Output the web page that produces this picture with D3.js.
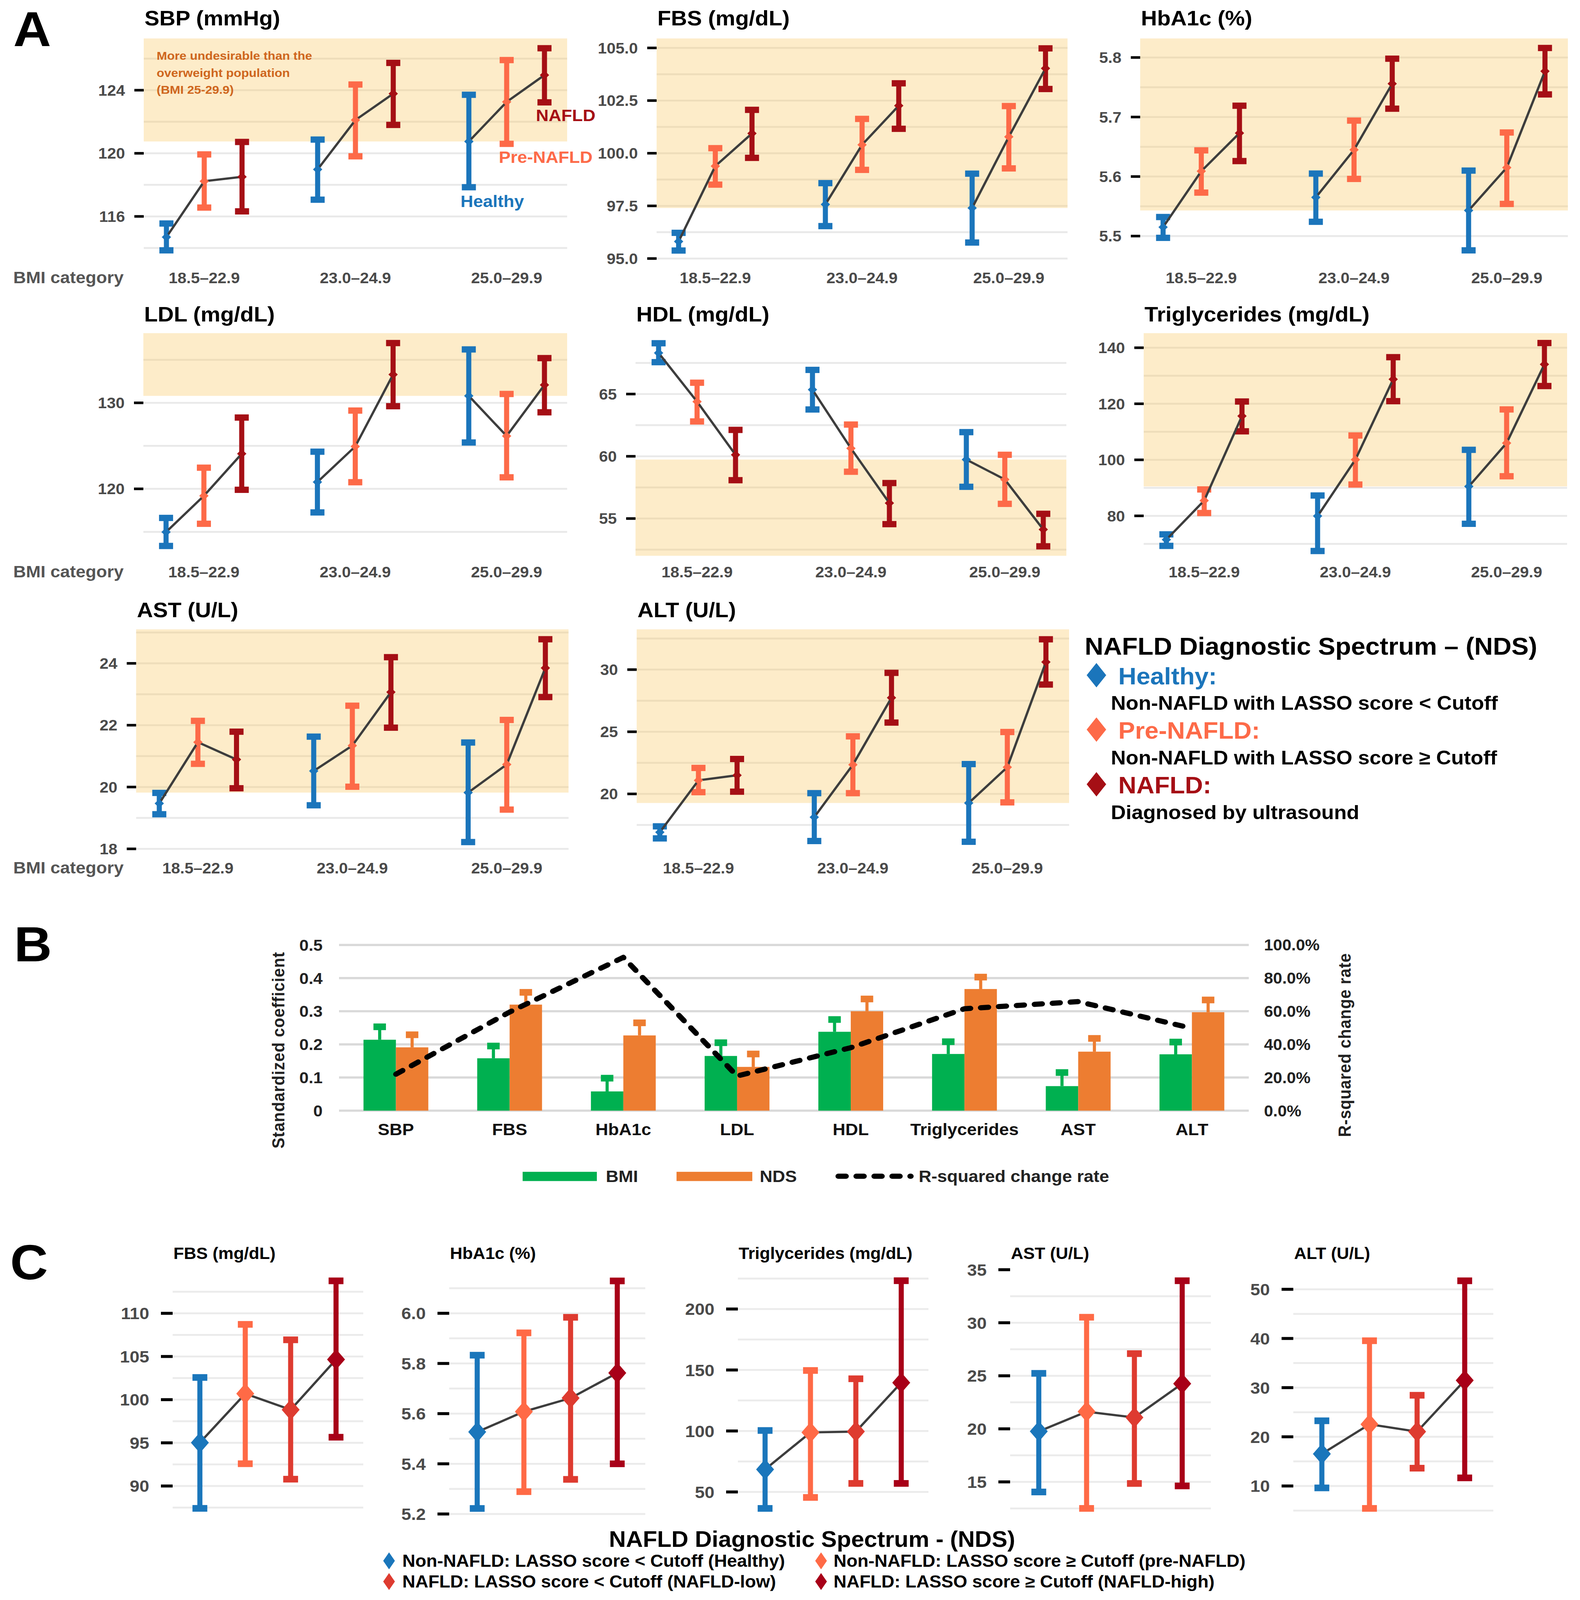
<!DOCTYPE html>
<html><head><meta charset="utf-8">
<script src="https://cdn.jsdelivr.net/npm/d3@7"></script>
<style>
html,body{margin:0;padding:0;background:#fff;overflow:hidden}
svg{display:block;width:100vw;height:100vh}
text{font-family:"Liberation Sans",Arial,Helvetica,sans-serif;font-weight:bold}
</style>
</head><body>
<svg id="c" viewBox="0 0 4045 4327" preserveAspectRatio="none"></svg>
<script>
// ---------------- DATA: Panel A (order: group-major, series Healthy, Pre-NAFLD, NAFLD) -------------
const bmiGroups = ["18.5–22.9", "23.0–24.9", "25.0–29.9"];
const ndsGroups = ["Healthy", "Pre-NAFLD", "NAFLD"];

const sbpMean = [114.69,118.23,118.51, 118.98,122.11,123.78, 120.75,123.26,124.96];
const sbpLo   = [113.85,116.56,116.32, 117.06,119.81,121.80, 117.85,120.60,123.23];
const sbpHi   = [115.55,119.93,120.72, 120.87,124.36,125.73, 123.71,125.91,126.66];

const fbsMean = [95.81,99.39,100.94, 97.57,100.40,102.26, 97.40,100.78,104.03];
const fbsLo   = [95.38,98.51,99.78, 96.54,99.21,101.16, 95.76,99.28,103.05];
const fbsHi   = [96.22,100.24,102.06, 98.58,101.63,103.32, 99.03,102.24,104.98];

const hbaMean = [5.515,5.609,5.673, 5.565,5.645,5.756, 5.543,5.615,5.777];
const hbaLo   = [5.497,5.573,5.626, 5.524,5.596,5.714, 5.476,5.554,5.738];
const hbaHi   = [5.532,5.644,5.719, 5.605,5.694,5.798, 5.610,5.674,5.816];

const ldlMean = [114.98,119.19,124.08, 120.79,124.93,133.29, 130.81,126.14,132.08];
const ldlLo   = [113.36,115.94,119.89, 117.26,120.77,129.61, 125.39,121.34,128.90];
const ldlHi   = [116.62,122.46,128.29, 124.32,129.10,136.95, 136.21,131.03,135.20];

const hdlMean = [68.30,64.39,60.12, 65.35,60.64,56.24, 59.74,58.14,54.12];
const hdlLo   = [67.56,62.80,58.08, 63.76,58.76,54.55, 57.55,56.18,52.77];
const hdlHi   = [69.08,65.91,62.12, 66.94,62.55,57.85, 61.94,60.12,55.38];

const tgMean  = [71.52,85.45,115.62, 79.93,100.07,128.75, 90.51,105.99,134.07];
const tgLo    = [69.29,81.01,110.17, 67.46,91.18,120.94, 77.17,94.14,126.33];
const tgHi    = [73.40,89.43,120.81, 87.27,108.69,136.63, 103.57,117.98,141.68];

const astMean = [19.47,21.45,20.89, 20.52,21.34,23.07, 19.82,20.73,23.85];
const astLo   = [19.12,20.75,19.96, 19.41,20.01,21.92, 18.22,19.27,22.91];
const astHi   = [19.81,22.14,21.79, 21.63,22.63,24.20, 21.44,22.17,24.78];

const altMean = [16.92,21.09,21.50, 18.13,22.35,27.74, 19.27,22.15,30.61];
const altLo   = [16.42,20.14,20.18, 16.21,20.06,25.74, 16.15,19.32,28.80];
const altHi   = [17.39,22.09,22.81, 20.06,24.63,29.74, 22.40,24.98,32.44];

// ---------------- DATA: Panel B ----------------
const coefCats  = ["SBP","FBS","HbA1c","LDL","HDL","Triglycerides","AST","ALT"];
const bmiCoef   = [0.214,0.158,0.058,0.165,0.238,0.171,0.074,0.170];
const bmiUpper  = [0.253,0.195,0.098,0.205,0.275,0.208,0.115,0.207];
const ndsCoef   = [0.191,0.320,0.227,0.132,0.300,0.367,0.178,0.297];
const ndsUpper  = [0.229,0.357,0.265,0.171,0.337,0.403,0.218,0.334];
const r2Change  = [22.0,59.5,92.5,20.9,38.0,61.5,65.8,49.7]; // percent
const coefTicks = [0,0.1,0.2,0.3,0.4,0.5];
const r2Ticks   = [0,0.2,0.4,0.6,0.8,1.0];

// ---------------- DATA: Panel C ----------------
const cGroups = ["Non-NAFLD: LASSO score < Cutoff (Healthy)","Non-NAFLD: LASSO score ≥ Cutoff (pre-NAFLD)",
                 "NAFLD: LASSO score < Cutoff (NAFLD-low)","NAFLD: LASSO score ≥ Cutoff (NAFLD-high)"];
const cFbsMean = [95.02,100.69,98.83,104.65];
const cFbsLo   = [87.41,92.58,90.79,95.65];
const cFbsHi   = [102.57,108.72,106.93,113.76];
const cHbaMean = [5.527,5.608,5.662,5.762];
const cHbaLo   = [5.222,5.289,5.338,5.400];
const cHbaHi   = [5.833,5.922,5.984,6.129];
const cTgMean  = [68.5,98.8,99.5,139.6];
const cTgLo    = [36.5,45.5,57.0,57.0];
const cTgHi    = [100.4,149.6,142.8,223.2];
const cAstMean = [19.76,21.62,21.07,24.26];
const cAstLo   = [14.05,12.50,14.85,14.62];
const cAstHi   = [25.23,30.52,27.09,33.96];
const cAltMean = [16.53,22.55,21.05,31.47];
const cAltLo   = [9.61,5.44,13.62,11.65];
const cAltHi   = [23.26,39.54,28.45,51.73];

// ---------------- STYLE ----------------
const ndsColors = ["#1b75bb","#fd6a48","#a50f15"];
const cColors   = ["#1a76bb","#ff6a46","#de3b30","#a80018"];
const tickGray = "#4a4a4a";
const svg = d3.select("#c");
svg.append("rect").attr("width",4045).attr("height",4327).attr("fill","#fff");

function diamond(w,h){ return `M0,${-h/2}L${w/2},0L0,${h/2}L${-w/2},0Z`; }
function steps(lo,hi,step){
  const a = Math.ceil(lo/step - 1e-9), b = Math.floor(hi/step + 1e-9);
  return d3.range(a,b+1).map(k => +(k*step).toFixed(6));
}

// ================= PANEL A =================
const rowsA = [
  {titleY:69,  labelY:766,  top:104,  bottom:706},
  {titleY:869, labelY:1561, top:901,  bottom:1503},
  {titleY:1669,labelY:2362, top:1702, bottom:2304}
];
const panelsA = [
  {title:"SBP (mmHg)", mean:sbpMean, lo:sbpLo, hi:sbpHi, domain:[113.17,127.28], major:4, minor:2, fmt:d3.format("d"), x:[368,1452], row:0},
  {title:"FBS (mg/dL)", mean:fbsMean, lo:fbsLo, hi:fbsHi, domain:[94.88,105.45], major:2.5, minor:1.25, fmt:d3.format(".1f"), x:[1681,2733], row:0},
  {title:"HbA1c (%)", mean:hbaMean, lo:hbaLo, hi:hbaHi, domain:[5.458,5.832], major:0.1, minor:0.05, fmt:d3.format(".1f"), x:[2919,4014], row:0},
  {title:"LDL (mg/dL)", mean:ldlMean, lo:ldlLo, hi:ldlHi, domain:[112.22,138.10], major:10, minor:5, fmt:d3.format("d"), x:[367,1452], row:1},
  {title:"HDL (mg/dL)", mean:hdlMean, lo:hdlLo, hi:hdlHi, domain:[52.01,69.89], major:5, minor:2.5, fmt:d3.format("d"), x:[1627,2730], row:1, lowBad:true},
  {title:"Triglycerides (mg/dL)", mean:tgMean, lo:tgLo, hi:tgHi, domain:[65.76,145.2], major:20, minor:10, fmt:d3.format("d"), x:[2928,4012], row:1},
  {title:"AST (U/L)", mean:astMean, lo:astLo, hi:astHi, domain:[17.90,25.10], major:2, minor:1, fmt:d3.format("d"), x:[348.5,1455.5], row:2},
  {title:"ALT (U/L)", mean:altMean, lo:altLo, hi:altHi, domain:[15.33,33.24], major:5, minor:2.5, fmt:d3.format("d"), x:[1630,2737], row:2}
];

panelsA.forEach((p,pi) => {
  const r = rowsA[p.row];
  const [x0,x1] = p.x;
  const x = d3.scaleLinear().domain([-0.4,2.4]).range([x0,x1]);
  const y = d3.scaleLinear().domain(p.domain).range([r.bottom,r.top]);
  const g = svg.append("g");
  const grid = steps(p.domain[0],p.domain[1],p.minor);
  g.selectAll("line.grid").data(grid).join("line").attr("class","grid")
    .attr("x1",x0).attr("x2",x1).attr("y1",d=>y(d)).attr("y2",d=>y(d))
    .attr("stroke","#e9e9e9").attr("stroke-width",5);
  // shading relative to Healthy BMI 25.0–29.9 mean
  const yr = y(p.mean[6]);
  const shade = g.append("rect").attr("x",x0).attr("width",x1-x0)
    .attr("fill","rgb(249,201,101)").attr("fill-opacity",0.35);
  if (p.lowBad) shade.attr("y",yr).attr("height",r.bottom-yr);
  else shade.attr("y",r.top).attr("height",yr-r.top);
  // y ticks
  const majors = steps(p.domain[0],p.domain[1],p.major);
  g.selectAll("line.tk").data(majors).join("line").attr("class","tk")
    .attr("x1",x0-24).attr("x2",x0).attr("y1",d=>y(d)).attr("y2",d=>y(d))
    .attr("stroke","#000").attr("stroke-width",7);
  g.selectAll("text.tl").data(majors).join("text").attr("class","tl")
    .attr("x",x0-48).attr("y",d=>y(d)).attr("dy","0.36em").attr("text-anchor","end")
    .attr("font-size",41).attr("fill",tickGray).text(d=>p.fmt(d));
  // title
  g.append("text").attr("x",x0+2).attr("y",r.titleY).attr("font-size",57).attr("fill","#000").text(p.title);
  // x labels
  g.selectAll("text.xl").data(bmiGroups).join("text").attr("class","xl")
    .attr("x",(d,i)=>x(i)).attr("y",r.labelY).attr("text-anchor","middle")
    .attr("font-size",41).attr("fill",tickGray).text(d=>d);
  // points
  const pts = p.mean.map((m,i)=>({g:Math.floor(i/3), s:i%3, m, lo:p.lo[i], hi:p.hi[i]}));
  const xp = d => x(d.g + (d.s-1)*0.25);
  g.selectAll("line.eb").data(pts).join("line").attr("class","eb")
    .attr("x1",xp).attr("x2",xp).attr("y1",d=>y(d.lo)).attr("y2",d=>y(d.hi))
    .attr("stroke",d=>ndsColors[d.s]).attr("stroke-width",13);
  ["lo","hi"].forEach(k=>{
    g.selectAll("rect.cap"+k).data(pts).join("rect").attr("class","cap"+k)
      .attr("x",d=>xp(d)-18).attr("width",36).attr("y",d=>y(d[k])-8.5).attr("height",17)
      .attr("fill",d=>ndsColors[d.s]);
  });
  const line = d3.line().x(xp).y(d=>y(d.m));
  d3.range(3).forEach(gi=>{
    g.append("path").attr("d",line(pts.filter(d=>d.g===gi))).attr("fill","none")
      .attr("stroke","#3d3d3d").attr("stroke-width",6);
  });
  g.selectAll("path.mk").data(pts).join("path").attr("class","mk")
    .attr("transform",d=>`translate(${xp(d)},${y(d.m)})`).attr("d",diamond(24,24))
    .attr("fill",d=>ndsColors[d.s]);
  if (pi===0) {
    // annotation & direct labels
    const ann = g.append("text").attr("font-size",32).attr("fill","#cf661d");
    ["More undesirable than the","overweight population","(BMI 25-29.9)"].forEach((t,i)=>
      ann.append("tspan").attr("x",401).attr("y",162+i*46).text(t));
    g.append("text").attr("x",1372).attr("y",327).attr("font-size",45).attr("fill",ndsColors[2]).text("NAFLD");
    g.append("text").attr("x",1277).attr("y",440).attr("font-size",45).attr("fill",ndsColors[1]).text("Pre-NAFLD");
    g.append("text").attr("x",1179).attr("y",560).attr("font-size",45).attr("fill",ndsColors[0]).text("Healthy");
  }
});
rowsA.forEach(r=>{
  svg.append("text").attr("x",34).attr("y",r.labelY).attr("font-size",45).attr("fill","#555").text("BMI category");
});

// Legend A
const legA = svg.append("g");
legA.append("text").attr("x",2777).attr("y",1771).attr("font-size",66).attr("fill","#000").text("NAFLD Diagnostic Spectrum – (NDS)");
const legItems = [
  {name:"Healthy:", desc:"Non-NAFLD with LASSO score < Cutoff", y:1851},
  {name:"Pre-NAFLD:", desc:"Non-NAFLD with LASSO score ≥ Cutoff", y:1998},
  {name:"NAFLD:", desc:"Diagnosed by ultrasound", y:2146}
];
legItems.forEach((it,i)=>{
  legA.append("path").attr("transform",`translate(2807,${it.y-25})`).attr("d",diamond(50,66)).attr("fill",ndsColors[i]);
  legA.append("text").attr("x",2863).attr("y",it.y).attr("font-size",64).attr("fill",ndsColors[i]).text(it.name);
  legA.append("text").attr("x",2844).attr("y",it.y+69).attr("font-size",53).attr("fill","#000").text(it.desc);
});

// Panel letters
[["A",34,125],["B",36,2600],["C",26,3460]].forEach(([t,x,y])=>
  svg.append("text").attr("x",x).attr("y",y).attr("font-size",134).attr("fill","#000").text(t));

// ================= PANEL B =================
{
  const g = svg.append("g");
  const xB = d3.scaleBand().domain(coefCats).range([868,3197]).paddingInner(0.43).paddingOuter(0.215);
  const xs = d3.scaleBand().domain(["BMI","NDS"]).range([0,xB.bandwidth()]);
  const yL = d3.scaleLinear().domain([0,0.5]).range([3003.6,2555.5]);
  const yR = d3.scaleLinear().domain([0,1]).range([3003.6,2555.5]);
  g.selectAll("line.grid").data(coefTicks).join("line")
    .attr("x1",868).attr("x2",3197).attr("y1",d=>yL(d)).attr("y2",d=>yL(d))
    .attr("stroke","#d9d9d9").attr("stroke-width",6);
  g.selectAll("text.yl").data(coefTicks).join("text")
    .attr("x",826).attr("y",d=>yL(d)).attr("dy","0.36em").attr("text-anchor","end")
    .attr("font-size",43).attr("fill","#222").text(d=>d===0?"0":d.toFixed(1));
  g.selectAll("text.yr").data(r2Ticks).join("text")
    .attr("x",3236).attr("y",d=>yR(d)).attr("dy","0.36em")
    .attr("font-size",42).attr("fill","#222").text(d=>d3.format(".1%")(d));
  g.append("text").attr("transform","translate(728,2840) rotate(-90)").attr("text-anchor","middle")
    .attr("font-size",44).attr("letter-spacing",1).attr("fill","#222").text("Standardized coefficient");
  g.append("text").attr("transform","translate(3458,2826) rotate(-90)").attr("text-anchor","middle")
    .attr("font-size",44).attr("letter-spacing",1).attr("fill","#222").text("R-squared change rate");
  const series = [
    {key:"BMI", vals:bmiCoef, up:bmiUpper, color:"#00b050"},
    {key:"NDS", vals:ndsCoef, up:ndsUpper, color:"#ed7d31"}
  ];
  series.forEach(s=>{
    const data = coefCats.map((c,i)=>({c, v:s.vals[i], u:s.up[i]}));
    const cx = d => xB(d.c)+xs(s.key)+xs.bandwidth()/2;
    g.selectAll("rect.bar"+s.key).data(data).join("rect")
      .attr("x",d=>xB(d.c)+xs(s.key)).attr("width",xs.bandwidth())
      .attr("y",d=>yL(d.v)).attr("height",d=>yL(0)-yL(d.v)).attr("fill",s.color);
    g.selectAll("line.w"+s.key).data(data).join("line")
      .attr("x1",cx).attr("x2",cx).attr("y1",d=>yL(d.v)).attr("y2",d=>yL(d.u))
      .attr("stroke",s.color).attr("stroke-width",8);
    g.selectAll("rect.c"+s.key).data(data).join("rect")
      .attr("x",d=>cx(d)-16).attr("width",32).attr("y",d=>yL(d.u)-9).attr("height",18)
      .attr("fill",s.color);
  });
  const r2 = coefCats.map((c,i)=>({c, v:r2Change[i]/100}));
  g.append("path").attr("d",d3.line().x(d=>xB(d.c)+xB.bandwidth()/2).y(d=>yR(d.v))(r2))
    .attr("fill","none").attr("stroke","#000").attr("stroke-width",14)
    .attr("stroke-dasharray","20 26").attr("stroke-linecap","round").attr("stroke-linejoin","round");
  g.selectAll("text.xl").data(coefCats).join("text")
    .attr("x",d=>xB(d)+xB.bandwidth()/2).attr("y",3070).attr("text-anchor","middle")
    .attr("font-size",45).attr("fill","#111").text(d=>d);
  // legend
  const lg = g.append("g");
  lg.append("rect").attr("x",1338).attr("y",3169).attr("width",190).attr("height",25).attr("fill","#00b050");
  lg.append("text").attr("x",1551).attr("y",3197).attr("font-size",45).attr("fill","#222").text("BMI");
  lg.append("rect").attr("x",1732).attr("y",3169).attr("width",194).attr("height",25).attr("fill","#ed7d31");
  lg.append("text").attr("x",1945).attr("y",3197).attr("font-size",45).attr("fill","#222").text("NDS");
  lg.append("line").attr("x1",2146).attr("x2",2332).attr("y1",3181).attr("y2",3181)
    .attr("stroke","#000").attr("stroke-width",14).attr("stroke-dasharray","20 26").attr("stroke-linecap","round");
  lg.append("text").attr("x",2352).attr("y",3197).attr("font-size",45).attr("fill","#222").text("R-squared change rate");
}

// ================= PANEL C =================
const cPanels = [
  {title:"FBS (mg/dL)", mean:cFbsMean, lo:cFbsLo, hi:cFbsHi, domain:[86.09,115.64], ticks:[90,110,5], grid:[87.5,112.5,2.5], fmt:d3.format("d"), x:[442,930]},
  {title:"HbA1c (%)", mean:cHbaMean, lo:cHbaLo, hi:cHbaHi, domain:[5.177,6.194], ticks:[5.2,6.0,0.2], grid:[5.2,6.1,0.1], fmt:d3.format(".1f"), x:[1150,1652]},
  {title:"Triglycerides (mg/dL)", mean:cTgMean, lo:cTgLo, hi:cTgHi, domain:[27.2,236.4], ticks:[50,200,50], grid:[50,225,25], fmt:d3.format("d"), x:[1889,2377]},
  {title:"AST (U/L)", mean:cAstMean, lo:cAstLo, hi:cAstHi, domain:[11.43,35.48], ticks:[15,35,5], grid:[12.5,32.5,2.5], fmt:d3.format("d"), x:[2586,3100]},
  {title:"ALT (U/L)", mean:cAltMean, lo:cAltLo, hi:cAltHi, domain:[3.13,55.02], ticks:[10,50,10], grid:[5,50,5], fmt:d3.format("d"), x:[3311,3823]}
];
cPanels.forEach(p=>{
  const [x0,x1] = p.x;
  const x = d3.scaleLinear().domain([0.4,4.6]).range([x0,x1]);
  const y = d3.scaleLinear().domain(p.domain).range([4110,3420]);
  const g = svg.append("g");
  const grid = steps(p.grid[0],p.grid[1],p.grid[2]);
  g.selectAll("line.grid").data(grid).join("line")
    .attr("x1",x0).attr("x2",x1).attr("y1",d=>y(d)).attr("y2",d=>y(d))
    .attr("stroke","#ebebeb").attr("stroke-width",5);
  const ticks = steps(p.ticks[0],p.ticks[1],p.ticks[2]);
  g.selectAll("line.tk").data(ticks).join("line")
    .attr("x1",x0-30).attr("x2",x0).attr("y1",d=>y(d)).attr("y2",d=>y(d))
    .attr("stroke","#000").attr("stroke-width",8);
  g.selectAll("text.tl").data(ticks).join("text")
    .attr("x",x0-60).attr("y",d=>y(d)).attr("dy","0.36em").attr("text-anchor","end")
    .attr("font-size",45).attr("fill",tickGray).text(d=>p.fmt(d));
  g.append("text").attr("x",x0+2).attr("y",3405).attr("font-size",44).attr("fill","#000").text(p.title);
  const pts = p.mean.map((m,i)=>({i, m, lo:p.lo[i], hi:p.hi[i]}));
  const xp = d => x(d.i+1);
  g.selectAll("line.eb").data(pts).join("line")
    .attr("x1",xp).attr("x2",xp).attr("y1",d=>y(d.lo)).attr("y2",d=>y(d.hi))
    .attr("stroke",d=>cColors[d.i]).attr("stroke-width",13);
  ["lo","hi"].forEach(k=>{
    g.selectAll("rect.cap"+k).data(pts).join("rect")
      .attr("x",d=>xp(d)-19).attr("width",38).attr("y",d=>y(d[k])-9).attr("height",18)
      .attr("fill",d=>cColors[d.i]);
  });
  g.append("path").attr("d",d3.line().x(xp).y(d=>y(d.m))(pts)).attr("fill","none")
    .attr("stroke","#3d3d3d").attr("stroke-width",6);
  g.selectAll("path.mk").data(pts).join("path")
    .attr("transform",d=>`translate(${xp(d)},${y(d.m)})`).attr("d",diamond(46,56))
    .attr("fill",d=>cColors[d.i]);
});
// Legend C
{
  const g = svg.append("g");
  g.append("text").attr("x",2079).attr("y",4183).attr("text-anchor","middle").attr("font-size",60).attr("fill","#000")
    .text("NAFLD Diagnostic Spectrum - (NDS)");
  const pos = [[996,1030,4237],[2102,2134,4237],[996,1030,4293],[2102,2134,4293]];
  cGroups.forEach((t,i)=>{
    const [dx,tx,ty] = pos[i];
    g.append("path").attr("transform",`translate(${dx},${ty-16})`).attr("d",diamond(30,46)).attr("fill",cColors[i]);
    g.append("text").attr("x",tx).attr("y",ty).attr("font-size",46).attr("fill","#000").text(t);
  });
}
</script>
</body></html>
